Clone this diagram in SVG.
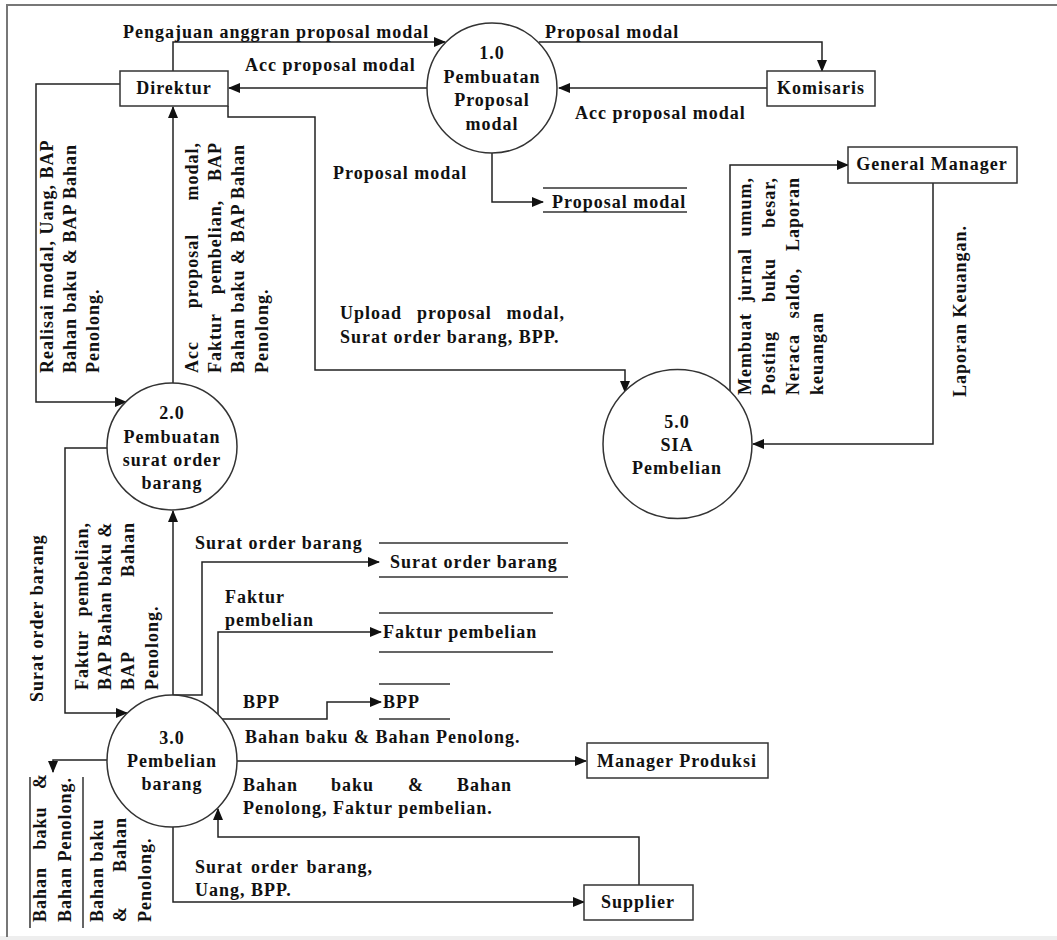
<svg xmlns="http://www.w3.org/2000/svg" width="1057" height="940" viewBox="0 0 1057 940">
<style>
.t{font-family:"Liberation Serif","Times New Roman",serif;font-size:18px;font-weight:bold;letter-spacing:1px;fill:#111}
.c{text-anchor:middle}
.e{text-anchor:end}
.ln{fill:none;stroke:#222;stroke-width:1.5}
.nd{fill:#fff;stroke:#333;stroke-width:1.5}
.ds{fill:none;stroke:#333;stroke-width:1.5}
</style>
<defs>
<marker id="ah" markerWidth="12" markerHeight="10" refX="11" refY="5" orient="auto" markerUnits="userSpaceOnUse"><path d="M0,0 L12,5 L0,10 z" fill="#111"/></marker>
</defs>
<rect x="0" y="0" width="1057" height="940" fill="#fff"/>
<rect x="0" y="936" width="1057" height="4" fill="#eeeeee"/>
<path d="M7,937 V5 H1057" fill="none" stroke="#777" stroke-width="2"/>

<g id="connectors">
<path class="ln" d="M173,71 V42 H445" marker-end="url(#ah)"/>
<path class="ln" d="M427,88 H229" marker-end="url(#ah)"/>
<path class="ln" d="M539,42 H822 V71" marker-end="url(#ah)"/>
<path class="ln" d="M767,88 H559" marker-end="url(#ah)"/>
<path class="ln" d="M492,153 V202 H543" marker-end="url(#ah)"/>
<path class="ln" d="M228,106 V117 H315 V370 H625 V392" marker-end="url(#ah)"/>
<path class="ln" d="M120,84 H36 V402 H126" marker-end="url(#ah)"/>
<path class="ln" d="M173,383 V107" marker-end="url(#ah)"/>
<path class="ln" d="M730,392 V165 H848" marker-end="url(#ah)"/>
<path class="ln" d="M933,183 V444 H753" marker-end="url(#ah)"/>
<path class="ln" d="M107,448 H65 V713 H127" marker-end="url(#ah)"/>
<path class="ln" d="M173,695 V511" marker-end="url(#ah)"/>
<path class="ln" d="M173,695 H202 V562 H379" marker-end="url(#ah)"/>
<path class="ln" d="M218,716 V632 H381" marker-end="url(#ah)"/>
<path class="ln" d="M218,716 V719 H327 V702 H381" marker-end="url(#ah)"/>
<path class="ln" d="M237,761 H586" marker-end="url(#ah)"/>
<path class="ln" d="M107,760 H53 V772" marker-end="url(#ah)"/>
<path class="ln" d="M639,885 V837 H218 V809" marker-end="url(#ah)"/>
<path class="ln" d="M173,827 V902 H584" marker-end="url(#ah)"/>

<text class="t" x="123" y="38">Pengajuan anggran proposal modal</text>
<text class="t" x="245" y="71">Acc proposal modal</text>
<text class="t" x="545" y="38">Proposal modal</text>
<text class="t" x="575" y="119">Acc proposal modal</text>
<text class="t" x="333" y="179">Proposal modal</text>
<text class="t" x="340" y="319">Upload</text>
<text class="t" x="417" y="319">proposal</text>
<text class="t e" x="565" y="319">modal,</text>
<text class="t" x="340" y="343">Surat order barang, BPP.</text>
<text class="t" x="195" y="549">Surat order barang</text>
<text class="t" x="225" y="603">Faktur</text>
<text class="t" x="225" y="626">pembelian</text>
<text class="t" x="243" y="708">BPP</text>
<text class="t" x="245" y="743">Bahan baku &amp; Bahan Penolong.</text>
<text class="t" x="243" y="791">Bahan</text>
<text class="t" x="331" y="791">baku</text>
<text class="t" x="408" y="791">&amp;</text>
<text class="t e" x="512" y="791">Bahan</text>
<text class="t" x="243" y="814">Penolong, Faktur pembelian.</text>
<text class="t" x="195" y="873">Surat</text>
<text class="t c" x="275" y="873">order</text>
<text class="t e" x="373" y="873">barang,</text>
<text class="t" x="195" y="896">Uang, BPP.</text>

<g transform="translate(53,373) rotate(-90)">
<text class="t" x="0" y="0">Realisai modal, Uang, BAP</text>
<text class="t" x="0" y="23">Bahan baku &amp; BAP Bahan</text>
<text class="t" x="0" y="46">Penolong.</text>
</g>
<g transform="translate(198,373) rotate(-90)">
<text class="t" x="0" y="0">Acc</text>
<text class="t c" x="102" y="0">proposal</text>
<text class="t e" x="231" y="0">modal,</text>
<text class="t" x="0" y="23">Faktur</text>
<text class="t c" x="126" y="23">pembelian,</text>
<text class="t e" x="231" y="23">BAP</text>
<text class="t" x="0" y="46">Bahan baku &amp; BAP Bahan</text>
<text class="t" x="0" y="70">Penolong.</text>
</g>
<g transform="translate(43,702) rotate(-90)">
<text class="t" x="0" y="0">Surat order barang</text>
</g>
<g transform="translate(88,690) rotate(-90)">
<text class="t" x="0" y="0">Faktur</text>
<text class="t e" x="168" y="0">pembelian,</text>
<text class="t" x="0" y="23">BAP Bahan baku &amp;</text>
<text class="t" x="0" y="46">BAP</text>
<text class="t e" x="168" y="46">Bahan</text>
<text class="t" x="0" y="70">Penolong.</text>
</g>
<g transform="translate(751,395) rotate(-90)">
<text class="t" x="0" y="0">Membuat</text>
<text class="t c" x="120" y="0">jurnal</text>
<text class="t e" x="218" y="0">umum,</text>
<text class="t" x="0" y="24">Posting</text>
<text class="t c" x="115" y="24">buku</text>
<text class="t e" x="218" y="24">besar,</text>
<text class="t" x="0" y="48">Neraca</text>
<text class="t c" x="102" y="48">saldo,</text>
<text class="t e" x="218" y="48">Laporan</text>
<text class="t" x="0" y="72">keuangan</text>
</g>
<g transform="translate(966,397) rotate(-90)">
<text class="t" x="0" y="0">Laporan Keuangan.</text>
</g>
<g transform="translate(103,922) rotate(-90)">
<text class="t" x="0" y="0">Bahan baku</text>
<text class="t" x="0" y="23">&amp;</text>
<text class="t e" x="105" y="23">Bahan</text>
<text class="t" x="0" y="48">Penolong.</text>
</g>
</g>

<g id="direktur">
<rect class="nd" x="120" y="71" width="108" height="35"/>
<text class="t c" x="174" y="94">Direktur</text>
</g>
<g id="komisaris">
<rect class="nd" x="767" y="71" width="108" height="35"/>
<text class="t c" x="821" y="94">Komisaris</text>
</g>
<g id="general-manager">
<rect class="nd" x="848" y="147" width="169" height="36"/>
<text class="t c" x="932" y="170">General Manager</text>
</g>
<g id="manager-produksi">
<rect class="nd" x="587" y="743" width="181" height="35"/>
<text class="t c" x="677" y="767">Manager Produksi</text>
</g>
<g id="supplier">
<rect class="nd" x="584" y="885" width="109" height="35"/>
<text class="t c" x="638" y="908">Supplier</text>
</g>

<g id="p1">
<ellipse class="nd" cx="492" cy="88" rx="65" ry="65"/>
<text class="t c" x="492" y="59">1.0</text>
<text class="t c" x="492" y="83">Pembuatan</text>
<text class="t c" x="492" y="106">Proposal</text>
<text class="t c" x="492" y="130">modal</text>
</g>
<g id="p2">
<ellipse class="nd" cx="172" cy="446.5" rx="65" ry="63.5"/>
<text class="t c" x="172" y="419">2.0</text>
<text class="t c" x="172" y="443">Pembuatan</text>
<text class="t c" x="172" y="466">surat order</text>
<text class="t c" x="172" y="489">barang</text>
</g>
<g id="p3">
<ellipse class="nd" cx="172" cy="761" rx="65" ry="66"/>
<text class="t c" x="172" y="744">3.0</text>
<text class="t c" x="172" y="767">Pembelian</text>
<text class="t c" x="172" y="790">barang</text>
</g>
<g id="p5">
<ellipse class="nd" cx="677.5" cy="444" rx="74.5" ry="74.5"/>
<text class="t c" x="677" y="428">5.0</text>
<text class="t c" x="677" y="451">SIA</text>
<text class="t c" x="677" y="474">Pembelian</text>
</g>

<g id="ds-proposal">
<path class="ds" d="M543,188 H687 M543,212 H687"/>
<text class="t" x="552" y="208">Proposal modal</text>
</g>
<g id="ds-surat">
<path class="ds" d="M379,543 H568 M379,577 H568"/>
<text class="t" x="390" y="568">Surat order barang</text>
</g>
<g id="ds-faktur">
<path class="ds" d="M379,613 H553 M379,652 H553"/>
<text class="t" x="383" y="638">Faktur pembelian</text>
</g>
<g id="ds-bpp">
<path class="ds" d="M379,684 H450 M379,719 H450"/>
<text class="t" x="383" y="708">BPP</text>
</g>
<g id="ds-bahan">
<path class="ds" d="M30,777 V928 M83,777 V928"/>
<g transform="translate(46,922) rotate(-90)">
<text class="t" x="0" y="0">Bahan</text>
<text class="t c" x="94" y="0">baku</text>
<text class="t e" x="149" y="0">&amp;</text>
<text class="t" x="0" y="25">Bahan Penolong.</text>
</g>
</g>
</svg>
